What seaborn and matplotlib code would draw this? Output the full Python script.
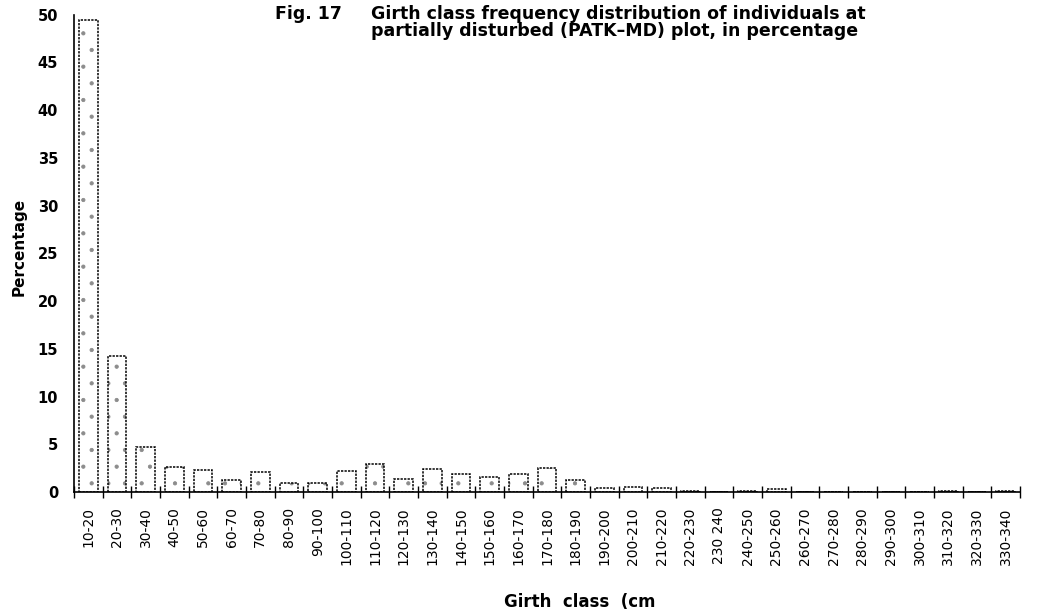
import matplotlib
matplotlib.use("Agg")
import matplotlib.pyplot as plt
import seaborn as sns
import pandas as pd
import numpy as np

# Girth classes (cm) and share of individuals in each class (%)
girth_classes = [
    "10-20", "20-30", "30-40", "40-50", "50-60", "60-70", "70-80", "80-90",
    "90-100", "100-110", "110-120", "120-130", "130-140", "140-150", "150-160",
    "160-170", "170-180", "180-190", "190-200", "200-210", "210-220", "220-230",
    "230 240", "240-250", "250-260", "260-270", "270-280", "280-290", "290-300",
    "300-310", "310-320", "320-330", "330-340",
]
percentages = [
    49.4, 14.2, 4.7, 2.6, 2.3, 1.3, 2.1, 0.9,
    0.9, 2.2, 2.9, 1.4, 2.4, 1.9, 1.6,
    1.9, 2.5, 1.3, 0.45, 0.5, 0.45, 0.1,
    0.05, 0.1, 0.3, 0.0, 0.0, 0.05, 0.05,
    0.0, 0.1, 0.05, 0.15,
]
y_ticks = [0, 5, 10, 15, 20, 25, 30, 35, 40, 45, 50]

df = pd.DataFrame({"girth": girth_classes, "pct": percentages})

sns.set_theme(style="white")
plt.rcParams["font.family"] = ["DejaVu Sans"]
plt.rcParams["text.color"] = "black"
plt.rcParams["axes.labelcolor"] = "black"
plt.rcParams["xtick.color"] = "black"
plt.rcParams["ytick.color"] = "black"
plt.rcParams["hatch.linewidth"] = 0.6

fig = plt.figure(figsize=(10.48, 6.12), dpi=100)
ax = fig.add_axes([74 / 1048, 1 - 492 / 612, (1020 - 74) / 1048, (492 - 14.7) / 612])

sns.barplot(data=df, x="girth", y="pct", color="white", edgecolor="black",
            linewidth=1.1, width=0.66, saturation=1, ax=ax)
# sparse grey stipple inside dotted-outline bars
for p in ax.patches:
    p.set_hatch(". ")
    p._hatch_color = (0.55, 0.55, 0.55, 1.0)
    p.set_linestyle((0, (1.5, 0.8)))

ax.set_xlim(-0.5, len(girth_classes) - 0.5)
ax.set_ylim(0, 50)

# y axis
ax.set_yticks(y_ticks)
ax.set_yticklabels([str(t) for t in y_ticks], fontsize=10.5, fontweight="bold")
ax.tick_params(axis="y", direction="inout", length=9, width=1.0, pad=7, colors="black")

# x axis: labels at class centres, tick marks at class boundaries
ax.set_xticks(np.arange(len(girth_classes)))
ax.set_xticklabels(girth_classes, rotation=90, fontsize=10)
ax.tick_params(axis="x", which="major", length=0, pad=11, colors="black")
ax.set_xticks(np.arange(len(girth_classes) + 1) - 0.5, minor=True)
ax.tick_params(axis="x", which="minor", direction="inout", length=9, width=1.0,
               color="black", bottom=True)

for side in ("top", "right"):
    ax.spines[side].set_visible(False)
for side in ("left", "bottom"):
    ax.spines[side].set_color("black")
    ax.spines[side].set_linewidth(1.2)

ax.set_xlabel("")
ax.set_ylabel("")
fig.text(19 / 1048, 1 - 247 / 612, "Percentage", rotation=90, ha="center", va="center",
         fontsize=11, fontweight="bold")
fig.text(580 / 1048, 1 - 602 / 612, "Girth  class  (cm", ha="center", va="center",
         fontsize=12, fontweight="bold")

fig.text(275 / 1048, 1 - 19 / 612, "Fig. 17", ha="left", va="baseline",
         fontsize=12.5, fontweight="bold")
fig.text(371 / 1048, 1 - 19 / 612,
         "Girth class frequency distribution of individuals at",
         ha="left", va="baseline", fontsize=12.5, fontweight="bold")
fig.text(371 / 1048, 1 - 36 / 612,
         "partially disturbed (PATK\u2013MD) plot, in percentage",
         ha="left", va="baseline", fontsize=12.5, fontweight="bold")

fig.savefig("out.png", dpi=100)
